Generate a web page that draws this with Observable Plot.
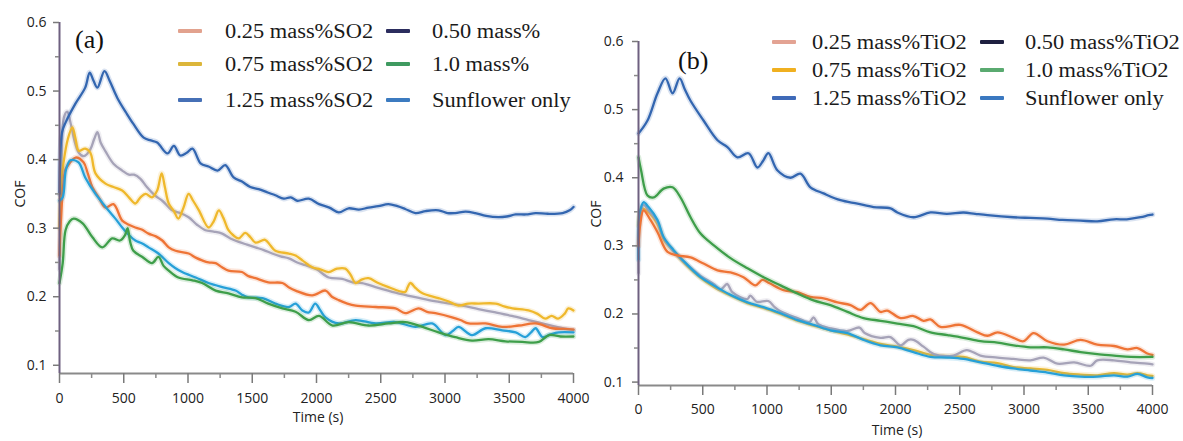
<!DOCTYPE html>
<html><head><meta charset="utf-8">
<script src="https://cdn.jsdelivr.net/npm/d3@7"></script>
<script src="https://cdn.jsdelivr.net/npm/@observablehq/plot@0.6"></script>
<style>
body{margin:0;background:#fff;}
#wrap{position:relative;width:1183px;height:441px;overflow:hidden;background:#fff;}
.panel{position:absolute;top:0;}
.sw{position:absolute;height:4px;width:24px;border-radius:1px;}
.lt{position:absolute;font-family:"Liberation Serif","Times New Roman",serif;font-size:20px;color:#1a1a1a;white-space:nowrap;line-height:1;transform-origin:left center;transform:translateY(-50%) scaleX(1.12);}
.plab{position:absolute;font-family:"Liberation Serif","Times New Roman",serif;font-size:26px;color:#111;line-height:1;transform:translateY(-50%);}
.ax{position:absolute;font-family:"Open Sans",sans-serif;font-size:14px;color:#222;white-space:nowrap;line-height:1;}
</style></head>
<body><div id="wrap"></div>
<script>
// ---------- tick values ----------
const xMajor = [0,500,1000,1500,2000,2500,3000,3500,4000];
const xMinor = [250,750,1250,1750,2250,2750,3250,3750];
const yMajor = [0.1,0.2,0.3,0.4,0.5,0.6];
const yMinor = [0.15,0.25,0.35,0.45,0.55];

// ---------- panel (a): SO2 ----------
const a_labels = ["0.25 mass%SO2","0.50 mass%","0.75 mass%SO2","1.0 mass%","1.25 mass%SO2","Sunflower only"];
const a_050 = [[0,0.24],[15,0.40],[35,0.462],[60,0.47],[90,0.45],[120,0.425],[150,0.41],[190,0.405],[240,0.415],[270,0.43],[295,0.44],[320,0.425],[358,0.412],[420,0.394],[488,0.384],[540,0.378],[580,0.378],[630,0.372],[680,0.36],[747,0.347],[800,0.34],[877,0.326],[940,0.322],[1005,0.316],[1070,0.305],[1136,0.297],[1200,0.295],[1266,0.292],[1330,0.285],[1395,0.28],[1460,0.276],[1525,0.272],[1590,0.268],[1655,0.263],[1720,0.259],[1785,0.256],[1850,0.25],[1915,0.246],[2000,0.24],[2095,0.228],[2200,0.226],[2280,0.221],[2355,0.22],[2480,0.213],[2615,0.206],[2750,0.2],[2875,0.195],[3000,0.191],[3135,0.187],[3260,0.182],[3395,0.177],[3520,0.172],[3650,0.166],[3780,0.16],[3915,0.154],[4000,0.152]];
const a_075 = [[0,0.30],[15,0.37],[30,0.394],[65,0.43],[100,0.447],[125,0.43],[150,0.413],[200,0.416],[240,0.41],[280,0.38],[358,0.365],[420,0.36],[488,0.355],[540,0.345],[590,0.336],[630,0.345],[670,0.35],[720,0.345],[760,0.355],[795,0.38],[820,0.36],[850,0.336],[890,0.325],[925,0.314],[965,0.33],[1005,0.35],[1040,0.34],[1085,0.326],[1160,0.301],[1200,0.31],[1240,0.326],[1275,0.315],[1315,0.297],[1350,0.29],[1395,0.285],[1445,0.293],[1485,0.287],[1525,0.279],[1600,0.283],[1640,0.275],[1680,0.267],[1785,0.263],[1837,0.26],[1890,0.253],[1967,0.243],[2030,0.24],[2095,0.236],[2160,0.241],[2225,0.241],[2265,0.232],[2305,0.22],[2350,0.225],[2405,0.227],[2480,0.22],[2560,0.214],[2690,0.207],[2710,0.214],[2730,0.22],[2775,0.212],[2825,0.205],[2950,0.198],[3030,0.193],[3105,0.187],[3180,0.19],[3260,0.19],[3395,0.19],[3460,0.186],[3525,0.183],[3650,0.18],[3720,0.175],[3780,0.168],[3830,0.172],[3880,0.168],[3930,0.175],[3960,0.183],[4000,0.18]];
const a_025 = [[0,0.26],[20,0.34],[45,0.385],[60,0.39],[125,0.403],[187,0.396],[220,0.38],[255,0.36],[305,0.345],[358,0.33],[420,0.335],[488,0.311],[540,0.305],[590,0.301],[640,0.298],[693,0.292],[750,0.288],[800,0.282],[850,0.272],[903,0.267],[1005,0.263],[1060,0.257],[1110,0.253],[1160,0.25],[1215,0.249],[1265,0.243],[1315,0.238],[1420,0.236],[1470,0.23],[1525,0.227],[1625,0.221],[1735,0.22],[1790,0.213],[1837,0.209],[1967,0.202],[2070,0.209],[2120,0.2],[2173,0.195],[2240,0.19],[2305,0.187],[2460,0.185],[2615,0.183],[2690,0.176],[2795,0.183],[2860,0.178],[2925,0.176],[3055,0.17],[3120,0.166],[3185,0.161],[3315,0.161],[3445,0.156],[3575,0.158],[3705,0.161],[3835,0.154],[3920,0.153],[4000,0.152]];
const a_sun = [[0,0.34],[25,0.345],[50,0.385],[85,0.399],[148,0.396],[200,0.374],[280,0.35],[330,0.338],[380,0.326],[430,0.315],[488,0.301],[540,0.29],[590,0.282],[640,0.278],[693,0.272],[770,0.263],[850,0.249],[900,0.242],[955,0.236],[1060,0.228],[1160,0.22],[1266,0.214],[1370,0.209],[1420,0.203],[1470,0.199],[1580,0.198],[1680,0.19],[1785,0.185],[1837,0.19],[1890,0.18],[1940,0.177],[1990,0.19],[2030,0.18],[2070,0.17],[2173,0.161],[2305,0.166],[2460,0.161],[2615,0.163],[2770,0.156],[2900,0.161],[3005,0.144],[3060,0.15],[3105,0.156],[3210,0.144],[3315,0.154],[3445,0.151],[3550,0.148],[3625,0.141],[3670,0.148],[3705,0.154],[3760,0.141],[3820,0.145],[3885,0.148],[4000,0.148]];
const a_100 = [[0,0.22],[25,0.249],[47,0.297],[80,0.31],[110,0.314],[180,0.307],[255,0.287],[333,0.272],[410,0.285],[470,0.282],[510,0.29],[530,0.3],[550,0.28],[575,0.267],[645,0.258],[720,0.249],[770,0.258],[810,0.245],[850,0.238],[925,0.228],[1035,0.224],[1110,0.22],[1215,0.209],[1315,0.205],[1420,0.199],[1525,0.198],[1625,0.19],[1735,0.183],[1837,0.178],[1940,0.166],[2020,0.172],[2125,0.158],[2250,0.163],[2405,0.158],[2560,0.161],[2690,0.163],[2825,0.156],[2950,0.148],[3080,0.141],[3210,0.136],[3340,0.138],[3470,0.135],[3600,0.134],[3730,0.134],[3810,0.144],[3900,0.142],[4000,0.142]];
const a_125 = [[0,0.35],[20,0.44],[47,0.454],[125,0.482],[200,0.505],[235,0.527],[265,0.515],[295,0.505],[350,0.529],[390,0.515],[450,0.49],[520,0.468],[575,0.452],[655,0.432],[710,0.428],[760,0.425],[840,0.409],[890,0.42],[940,0.406],[990,0.41],[1035,0.416],[1100,0.394],[1160,0.39],[1230,0.384],[1290,0.392],[1355,0.374],[1420,0.368],[1485,0.36],[1550,0.357],[1620,0.352],[1680,0.348],[1745,0.343],[1800,0.345],[1850,0.34],[1940,0.343],[2020,0.335],[2100,0.33],[2173,0.323],[2250,0.329],[2330,0.327],[2405,0.33],[2480,0.332],[2560,0.335],[2630,0.332],[2690,0.328],[2770,0.322],[2850,0.325],[2950,0.326],[3020,0.322],[3080,0.322],[3160,0.324],[3235,0.322],[3320,0.318],[3415,0.316],[3480,0.317],[3550,0.32],[3630,0.32],[3705,0.322],[3800,0.321],[3915,0.322],[3970,0.326],[4000,0.331]];

// ---------- panel (b): TiO2 ----------
const b_labels = ["0.25 mass%TiO2","0.50 mass%TiO2","0.75 mass%TiO2","1.0 mass%TiO2","1.25 mass%TiO2","Sunflower only"];
const b_050 = [[0,0.26],[10,0.34],[39,0.36],[78,0.352],[148,0.335],[195,0.312],[272,0.292],[381,0.272],[483,0.256],[584,0.244],[640,0.236],[690,0.244],[730,0.232],[848,0.222],[870,0.227],[920,0.218],[1010,0.219],[1060,0.21],[1105,0.204],[1237,0.194],[1330,0.188],[1362,0.195],[1400,0.185],[1494,0.179],[1626,0.175],[1720,0.18],[1760,0.172],[1883,0.165],[1960,0.166],[2039,0.154],[2100,0.162],[2140,0.162],[2218,0.152],[2298,0.141],[2450,0.139],[2555,0.147],[2661,0.139],[2794,0.136],[2918,0.134],[3050,0.132],[3153,0.136],[3260,0.127],[3390,0.129],[3520,0.124],[3570,0.132],[3700,0.132],[3830,0.129],[3960,0.127],[4000,0.126]];
const b_075 = [[0,0.33],[20,0.355],[60,0.352],[148,0.332],[195,0.31],[272,0.292],[381,0.27],[483,0.253],[584,0.24],[716,0.227],[848,0.216],[973,0.209],[1105,0.2],[1237,0.19],[1362,0.183],[1494,0.176],[1626,0.17],[1751,0.163],[1883,0.156],[2015,0.152],[2140,0.147],[2272,0.14],[2405,0.138],[2529,0.137],[2661,0.13],[2794,0.128],[2918,0.122],[3050,0.12],[3183,0.118],[3312,0.113],[3440,0.111],[3570,0.11],[3700,0.113],[3805,0.111],[3883,0.113],[3960,0.11],[4000,0.109]];
const b_025 = [[0,0.30],[16,0.335],[39,0.352],[93,0.338],[148,0.32],[226,0.291],[303,0.286],[405,0.283],[506,0.274],[615,0.264],[716,0.261],[817,0.254],[910,0.242],[965,0.25],[1020,0.245],[1128,0.235],[1237,0.232],[1338,0.225],[1440,0.223],[1549,0.217],[1650,0.213],[1728,0.206],[1805,0.216],[1883,0.203],[1935,0.205],[2039,0.194],[2140,0.197],[2218,0.19],[2272,0.192],[2350,0.181],[2505,0.184],[2638,0.173],[2716,0.168],[2794,0.173],[2918,0.165],[2996,0.16],[3074,0.172],[3183,0.16],[3312,0.155],[3440,0.162],[3570,0.155],[3700,0.153],[3805,0.148],[3883,0.15],[3960,0.142],[4000,0.14]];
const b_sun = [[0,0.28],[10,0.348],[39,0.364],[78,0.357],[148,0.338],[195,0.313],[272,0.294],[381,0.272],[483,0.254],[584,0.242],[716,0.228],[848,0.217],[973,0.21],[1105,0.201],[1237,0.191],[1362,0.184],[1494,0.176],[1626,0.172],[1751,0.162],[1883,0.154],[2015,0.151],[2140,0.144],[2272,0.137],[2405,0.136],[2529,0.134],[2661,0.129],[2794,0.124],[2918,0.12],[3050,0.117],[3183,0.114],[3312,0.11],[3440,0.108],[3570,0.108],[3700,0.11],[3805,0.108],[3883,0.112],[3960,0.107],[4000,0.106]];
const b_100 = [[0,0.43],[20,0.411],[70,0.374],[117,0.371],[195,0.384],[265,0.386],[327,0.371],[405,0.342],[483,0.318],[584,0.301],[716,0.282],[848,0.267],[973,0.254],[1105,0.242],[1237,0.23],[1362,0.22],[1494,0.213],[1626,0.203],[1751,0.194],[1883,0.19],[2015,0.186],[2140,0.182],[2272,0.173],[2405,0.169],[2529,0.165],[2661,0.16],[2794,0.158],[2918,0.154],[3050,0.151],[3183,0.151],[3312,0.148],[3440,0.144],[3570,0.141],[3700,0.139],[3830,0.137],[4000,0.137]];
const b_125 = [[0,0.465],[70,0.484],[148,0.524],[210,0.546],[265,0.524],[320,0.546],[360,0.53],[405,0.513],[506,0.484],[615,0.455],[692,0.445],[770,0.43],[856,0.436],[926,0.415],[970,0.425],[1011,0.436],[1080,0.411],[1183,0.4],[1260,0.406],[1338,0.386],[1440,0.377],[1572,0.367],[1704,0.362],[1829,0.357],[1961,0.355],[2015,0.349],[2140,0.342],[2272,0.349],[2400,0.347],[2529,0.349],[2620,0.347],[2716,0.345],[2918,0.342],[3050,0.341],[3183,0.34],[3300,0.338],[3440,0.337],[3570,0.336],[3700,0.339],[3800,0.339],[3907,0.342],[3970,0.345],[4000,0.346]];

// ---------- styles ----------
const lineColors = {g:"#a6a3b8", y:"#efb82c", o:"#ee7436", c:"#26a0d8", gr:"#3e9e4a", b:"#3366b0"};
const a_swatch = ["#e2a28e","#2b2d5e","#dcb63a","#3f9a60","#4670b6","#3c7bc0"];
const b_swatch = ["#e3a393","#1e2040","#f0b020","#5aaa70","#3f6ab8","#3a78c0"];

const wrap = document.getElementById("wrap");

function panel(cfg){
  const marks = [];
  for (const s of cfg.series){
    marks.push(Plot.line(s.data,{x:d=>d[0],y:d=>d[1],stroke:s.color,strokeWidth:5.5,strokeOpacity:0.18,curve:"catmull-rom"}));
    marks.push(Plot.line(s.data,{x:d=>d[0],y:d=>d[1],stroke:s.color,strokeWidth:2.3,curve:"catmull-rom"}));
  }
  const svg = Plot.plot({
    width: cfg.width, height: 441,
    marginLeft: cfg.ml, marginRight: cfg.mr, marginTop: cfg.mt, marginBottom: cfg.mb,
    x: {domain:[0,4000]},
    y: {domain:[cfg.ymin,0.6]},
    style: {fontFamily:"'Open Sans',sans-serif", fontSize:"14px", color:"#222", background:"transparent", overflow:"visible"},
    marks: [
      ...marks,
      Plot.ruleY([cfg.ymin],{stroke:"#8a8a8a",strokeWidth:2}),
      Plot.ruleX([0],{stroke:"#6e6080",strokeWidth:2}),
      Plot.axisX({ticks:xMajor, tickSize:10, tickPadding:cfg.xpad, tickFormat:d=>String(d), stroke:"#7a7a7a", strokeWidth:1.5, label:null}),
      Plot.axisX({ticks:xMinor, tickSize:5, text:null, stroke:"#8a8a8a", strokeWidth:1.5, label:null}),
      Plot.axisY({ticks:yMajor, tickSize:6, tickPadding:cfg.ypad, tickFormat:d3.format(".1f"), stroke:"#7a7a7a", strokeWidth:1.5, label:null}),
      Plot.axisY({ticks:yMinor, tickSize:4, text:null, stroke:"#8a8a8a", strokeWidth:1.5, label:null})
    ]
  });
  const d = document.createElement("div");
  d.className = "panel"; d.style.left = cfg.left+"px";
  d.appendChild(svg);
  wrap.appendChild(d);
}

panel({left:0, width:590, ml:59, mr:17, mt:22, mb:68, ymin:0.088, xpad:10, ypad:7,
  series:[{data:a_050,color:lineColors.g},{data:a_075,color:lineColors.y},{data:a_025,color:lineColors.o},{data:a_sun,color:lineColors.c},{data:a_100,color:lineColors.gr},{data:a_125,color:lineColors.b}]});
panel({left:590, width:593, ml:48, mr:31, mt:41, mb:56, ymin:0.095, xpad:9, ypad:9,
  series:[{data:b_075,color:lineColors.y},{data:b_050,color:lineColors.g},{data:b_sun,color:lineColors.c},{data:b_025,color:lineColors.o},{data:b_100,color:lineColors.gr},{data:b_125,color:lineColors.b}]});

function legend(labels, colors, lay){
  labels.forEach((t,i)=>{
    const col = i%2, row = Math.floor(i/2);
    const sw = document.createElement("div");
    sw.className="sw"; sw.style.background=colors[i];
    sw.style.left = lay.sx[col]+"px"; sw.style.top = (lay.ry[row]-2)+"px";
    wrap.appendChild(sw);
    const tx = document.createElement("div");
    tx.className="lt"; tx.textContent=t;
    tx.style.left = lay.tx[col]+"px"; tx.style.top = lay.ry[row]+"px";
    wrap.appendChild(tx);
  });
}
legend(a_labels, a_swatch, {sx:[178,386], tx:[225,432], ry:[31,64,100]});
legend(b_labels, b_swatch, {sx:[772,980], tx:[812,1025], ry:[42,70,98]});

function text(t, cls, x, y, rot){
  const e = document.createElement("div");
  e.className = cls; e.textContent = t;
  e.style.left = x+"px"; e.style.top = y+"px";
  if (rot) e.style.transform = "translate(-50%,-50%) rotate(-90deg)";
  else if (cls==="ax") e.style.transform = "translate(-50%,-50%)";
  wrap.appendChild(e);
}
text("(a)","plab",75,40);
text("(b)","plab",678,61);
text("COF","ax",20,194,true);
text("COF","ax",596,214,true);
text("Time (s)","ax",318,417);
text("Time (s)","ax",897,430);
</script>
</body></html>
